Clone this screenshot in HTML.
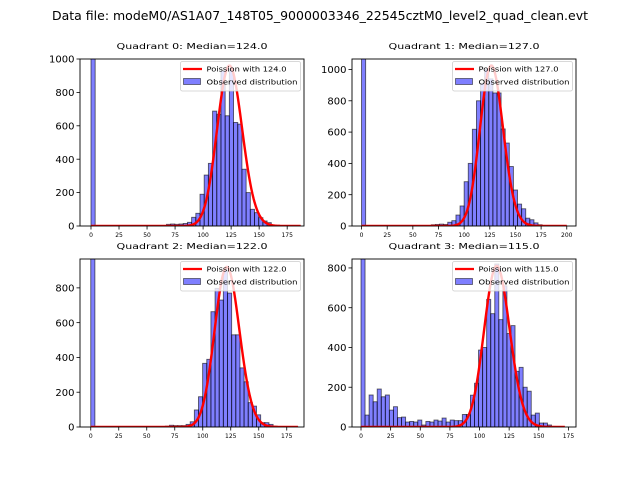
<!DOCTYPE html>
<html><head><meta charset="utf-8"><style>
html,body{margin:0;padding:0;background:#fff;}
svg{display:block;font-family:"DejaVu Sans","Liberation Sans",sans-serif;}
</style></head><body>
<svg id="fig" width="640" height="480" viewBox="0 0 640 480" xmlns="http://www.w3.org/2000/svg">
<rect width="640" height="480" fill="#fff"/>
<text x="320" y="20" text-anchor="middle" font-size="12" textLength="536" lengthAdjust="spacingAndGlyphs">Data file: modeM0/AS1A07_148T05_9000003346_22545cztM0_level2_quad_clean.evt</text>
</svg>
<script>
const medians = [124.0, 127.0, 122.0, 115.0];
const binWidths = [3.74, 4.0, 3.7, 3.42];
const curvePeaks = [960, 1025, 920, 810];
const curveMax = [187, 200, 185, 172];
const counts0 = [6000,0,0,0,0,0,0,0,0,0,0,0,0,0,0,0,0,0,10,12,10,12,15,22,52,76,190,305,375,688,669,930,660,940,620,610,340,200,100,80,50,30,20,5,4,3,3,2,2,1];
const counts1 = [6000,0,0,0,0,0,0,0,0,0,0,0,0,0,0,0,0,8,10,12,10,24,34,70,128,283,400,618,800,912,1000,940,850,850,620,530,380,230,140,110,50,40,20,8,3,2,2,2,1,1];
const counts2 = [6000,0,0,0,0,0,0,0,0,0,0,0,0,0,0,0,0,0,5,10,8,8,8,15,30,98,174,366,389,663,797,730,900,770,530,530,340,260,140,120,70,25,25,15,5,3,3,2,2,1];
const counts3 = [6000,60,161,127,191,152,161,85,102,47,50,25,28,25,35,10,28,25,35,30,45,25,35,32,32,63,63,160,220,387,400,642,570,820,540,710,470,510,280,300,200,180,60,70,20,20,10,3,2,1];
const allCounts = [counts0, counts1, counts2, counts3];
const xLims = [[-9.8,190],[-9.3,209],[-9.6,190.4],[-7.6,181.4]];
const yMaxes = [1000, 1067, 966, 845];
const xTicks0 = [0,25,50,75,100,125,150,175];
const xTicks1 = [0,25,50,75,100,125,150,175,200];
const allXTicks = [xTicks0, xTicks1, xTicks0, xTicks0];
const yTicksA = [0,200,400,600,800,1000];
const yTicksB = [0,200,400,600,800];
const allYTicks = [yTicksA, yTicksA, yTicksB, yTicksB];

const NS = "http://www.w3.org/2000/svg";
const svg = document.getElementById('fig');
const boxes = [[80,59,304,226],[352,59,576,226],[80,259,304,427],[352,259,576,427]];
function mk(tag, attrs, parent){const e=document.createElementNS(NS,tag);for(const k in attrs)e.setAttribute(k,attrs[k]);(parent||svg).appendChild(e);return e;}
function logFact(n){let s=0;for(let i=2;i<=n;i++)s+=Math.log(i);return s;}
function poisson(k,mu){return Math.exp(k*Math.log(mu)-mu-logFact(k));}

for(let q=0;q<4;q++){
  const [L,T,R,B]=boxes[q];
  const [x0,x1]=xLims[q];
  const ymax=yMaxes[q];
  const X=v=>L+(v-x0)/(x1-x0)*(R-L);
  const Y=v=>B-v/ymax*(B-T);
  const g=mk('g',{});
  
  
  const clipId='clip'+q;
  const cp=mk('clipPath',{id:clipId},g);
  mk('rect',{x:L,y:T,width:R-L,height:B-T},cp);
  const bars=mk('g',{'clip-path':'url(#'+clipId+')'},g);
  const cs=allCounts[q], bw=binWidths[q];
  cs.forEach((c,i)=>{
    if(c<=0) return;
    const r=mk('rect',{x:X(i*bw),y:Y(c),width:X((i+1)*bw)-X(i*bw),height:B-Y(c),fill:'rgba(0,0,255,0.5)',stroke:'rgba(0,0,0,0.6)','stroke-width':0.9},bars);
    
    
  });
  const mu=medians[q];
  const pk=poisson(Math.round(mu),mu);
  let d='';
  for(let k=0;k<=curveMax[q];k++){
    const v=poisson(k,mu)/pk*curvePeaks[q];
    d+=(k?'L':'M')+X(k).toFixed(2)+','+Y(v).toFixed(2);
  }
  const line=mk('path',{d:d,fill:'none',stroke:'#ff0000','stroke-width':2.4,'stroke-linejoin':'round'},bars);
  
  
  const sp=mk('rect',{x:L,y:T,width:R-L,height:B-T,fill:'none',stroke:'#000','stroke-width':0.9},g);
  
  
  allXTicks[q].forEach(t=>{
    mk('line',{x1:X(t),x2:X(t),y1:B,y2:B+3.5,stroke:'#000','stroke-width':0.8},g);
    const tx=mk('text',{x:X(t),y:B+11,'text-anchor':'middle','font-size':6},g);
    tx.textContent=t;
    
    
  });
  allYTicks[q].forEach(t=>{
    mk('line',{x1:L-3.5,x2:L,y1:Y(t),y2:Y(t),stroke:'#000','stroke-width':0.8},g);
    const tx=mk('text',{x:L-5.5,y:Y(t)+3.6,'text-anchor':'end','font-size':10},g);
    tx.textContent=t;
    
    
  });
  const ti=mk('text',{x:(L+R)/2,y:T-10,'text-anchor':'middle','font-size':8,textLength:151,lengthAdjust:'spacingAndGlyphs'},g);
  ti.textContent='Quadrant '+q+': Median='+mu.toFixed(1);
  
  
  const lg=mk('g',{},g);
  
  
  const lx=R-123.5, ly=T+2.5;
  mk('rect',{x:lx,y:ly,width:120,height:29.5,rx:2,fill:'rgba(255,255,255,0.8)',stroke:'#ccc','stroke-width':0.8},lg);
  mk('line',{x1:lx+2.5,x2:lx+21.5,y1:ly+7.5,y2:ly+7.5,stroke:'#ff0000','stroke-width':2.2},lg);
  const t1=mk('text',{x:lx+26,y:ly+10,'font-size':7,textLength:80,lengthAdjust:'spacingAndGlyphs'},lg);
  t1.textContent='Poission with '+mu.toFixed(1);
  
  
  mk('rect',{x:lx+3,y:ly+17,width:17,height:6,fill:'rgba(0,0,255,0.5)',stroke:'rgba(0,0,0,0.6)','stroke-width':0.8},lg);
  const t2=mk('text',{x:lx+26,y:ly+23,'font-size':7,textLength:91,lengthAdjust:'spacingAndGlyphs'},lg);
  t2.textContent='Observed distribution';
  
  
}
</script>
</body></html>
